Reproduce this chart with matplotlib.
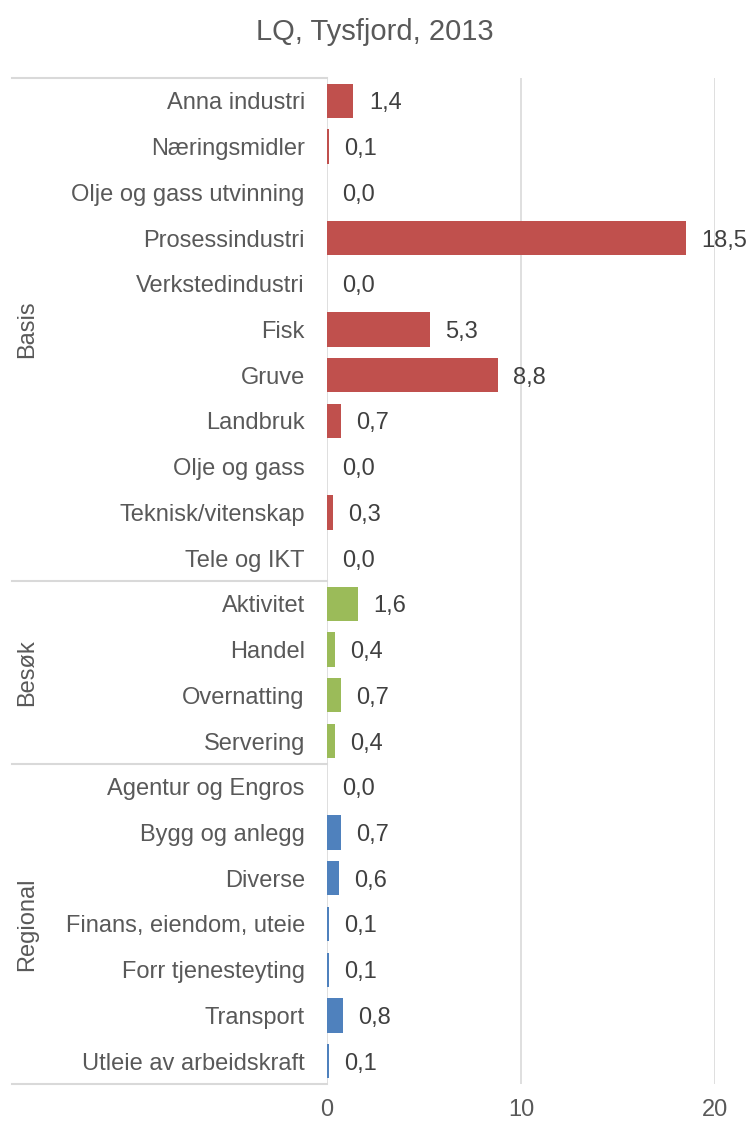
import matplotlib
matplotlib.use("Agg")
import matplotlib.pyplot as plt
import matplotlib.transforms as mtransforms

plt.rcParams['font.family'] = ['Liberation Sans', 'DejaVu Sans']

title = "LQ, Tysfjord, 2013"
groups = ["Basis", "Besøk", "Regional"]
group_sizes = [11, 4, 7]
group_colors = ["#C0504D", "#9BBB59", "#4F81BD"]
categories = [
    "Anna industri", "Næringsmidler", "Olje og gass utvinning", "Prosessindustri",
    "Verkstedindustri", "Fisk", "Gruve", "Landbruk", "Olje og gass",
    "Teknisk/vitenskap", "Tele og IKT",
    "Aktivitet", "Handel", "Overnatting", "Servering",
    "Agentur og Engros", "Bygg og anlegg", "Diverse", "Finans, eiendom, uteie",
    "Forr tjenesteyting", "Transport", "Utleie av arbeidskraft",
]
values = [
    1.36, 0.1, 0.0, 18.5, 0.0, 5.3, 8.8, 0.7, 0.0, 0.3, 0.0,
    1.6, 0.4, 0.7, 0.4,
    0.0, 0.7, 0.6, 0.1, 0.1, 0.8, 0.1,
]
xticks = [0, 10, 20]

W, H = 750, 1124
fig = plt.figure(figsize=(W / 100, H / 100), dpi=100)
x0, x1 = 327, 715
y0, y1 = 78, 1084
ax = fig.add_axes([x0 / W, 1 - y1 / H, (x1 - x0) / W, (y1 - y0) / H])

colors = []
for g, n in enumerate(group_sizes):
    colors += [group_colors[g]] * n

ypos = list(range(len(categories)))
ax.barh(ypos, values, height=0.75, color=colors, zorder=3)
ax.set_xlim(0, 20)
ax.set_ylim(len(categories) - 0.5, -0.5)

grid_c = "#D9D9D9"
text_c = "#595959"
for s in ax.spines.values():
    s.set_visible(False)
ax.axvline(0, color=grid_c, lw=1.2, zorder=2)
for t in xticks[1:]:
    ax.axvline(t, color=grid_c, lw=1.2, zorder=1)

ax.set_xticks(xticks)
ax.set_xticklabels([str(t) for t in xticks], fontsize=17, color=text_c)
ax.tick_params(axis='x', length=0, pad=11)
ax.set_yticks(ypos)
ax.set_yticklabels(categories, fontsize=17, color=text_c)
ax.tick_params(axis='y', length=0, pad=16)

for y, v in zip(ypos, values):
    ax.text(v + 0.8, y, f"{v:.1f}".replace(".", ","), va='center_baseline', ha='left',
            fontsize=17, color="#404040", zorder=4)

trans = mtransforms.blended_transform_factory(ax.transAxes, ax.transData)
xl = (12 - x0) / (x1 - x0)
xg = (27 - x0) / (x1 - x0)
start = 0
bounds = [-0.5]
for g, n in enumerate(group_sizes):
    end = start + n
    bounds.append(end - 0.5)
    ax.text(xg, (start + end - 1) / 2, groups[g], transform=trans, rotation=90,
            ha='center', va='center', fontsize=17, color=text_c)
    start = end
for b in bounds:
    ax.plot([xl, 0], [b, b], transform=trans, color=grid_c, lw=1.5, clip_on=False)

fig.text(0.5, 1 - 32 / H, title, ha='center', va='center', fontsize=21, color=text_c)

fig.savefig("out.png", dpi=100)
